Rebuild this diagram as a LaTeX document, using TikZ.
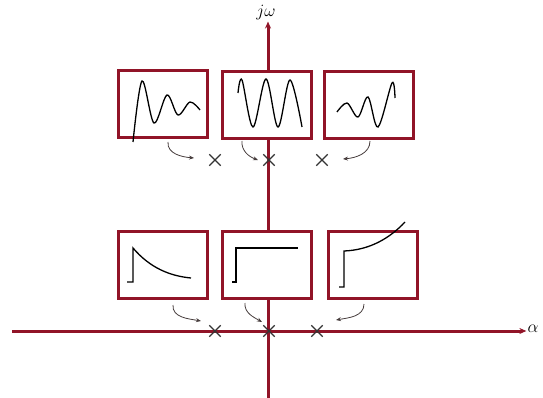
\documentclass[tikz,border=0pt]{standalone}
\usetikzlibrary{shapes.misc,calc,arrows.meta}
\definecolor{axred}{RGB}{145,20,40}
\definecolor{arrgray}{RGB}{70,60,60}
\begin{document}
\begin{tikzpicture}[x=1pt, y=-1pt,
  axis/.style={draw=axred, line width=3pt, -{Stealth[length=7pt,width=6pt]}},
  scope/.style={draw=axred, line width=3pt, fill=white, minimum width=89pt, minimum height=67pt, inner sep=0pt},
  pole/.style={cross out, draw=black!80, line width=1.3pt, minimum size=10pt, inner sep=0pt},
  flow/.style={draw=arrgray, line width=0.8pt, -{Stealth[length=5pt,width=4pt]}},
  wave/.style={draw=black, line width=1.3pt},
  axlabel/.style={font=\fontsize{18}{20}\selectfont, inner sep=1pt}]
\useasboundingbox (0,0) rectangle (543,398);
% axes
\node[axlabel] (jw) at (266,13) {$j\omega$};
\node[axlabel] (alpha) at (533,329) {$\alpha$};
\coordinate (ybot) at (268,398);
\coordinate (xleft) at (12,331);
\draw[axis] (ybot) -- (ybot |- jw.south);
\draw[axis] (xleft) -- (xleft -| alpha.west);
% response boxes, upper row
\node[scope] (t1) at (163,104) {};
\node[scope] (t2) at (267,105) {};
\node[scope] (t3) at (369,105) {};
% response boxes, lower row
\node[scope] (b1) at (163,265) {};
\node[scope] (b2) at (267,265) {};
\node[scope] (b3) at (373,265) {};
% poles
\node[pole] (tx1) at (215,160) {};
\node[pole] (tx2) at (269,160) {};
\node[pole] (tx3) at (322,160) {};
\node[pole] (bx1) at (215,331) {};
\node[pole] (bx2) at (269,331) {};
\node[pole] (bx3) at (317,331) {};
% waveforms
\draw[wave] plot[smooth, tension=0.55] coordinates {(133,142) (142,81) (154,123) (167,95) (178,115) (190,102) (200,110)};
\draw[wave] plot[smooth, tension=0.55] coordinates {(238,93) (242,80) (253,127) (266,79) (278,127) (290,80) (302,127)};
\draw[wave] plot[smooth, tension=0.55] coordinates {(337,112) (347,103) (358,117) (368,97) (378,127) (392,83) (395,98)};
\draw[wave] (127,282) -- (133,282) -- (133,248) .. controls (150,268) and (170,276) .. (191,278);
\draw[wave] (232,282) -- (236,282) -- (236,248) -- (298,248);
\draw[wave] (339,287) -- (344,287) -- (344,251) .. controls (370,250) and (390,238) .. (405,222);
% box to pole arrows
\draw[flow] ($(t1.south)+(5,3)$) to[out=-95, in=175] ($(tx1)+(-21,-2)$);
\draw[flow] ($(t2.south)+(-25,1)$) to[out=-95, in=160] ($(tx2)+(-11,0)$);
\draw[flow] ($(t3.south)+(1,1)$) to[out=-90, in=5] ($(tx3)+(21,-1)$);
\draw[flow] ($(b1.south)+(10,5)$) to[out=-95, in=170] ($(bx1)+(-14,-10)$);
\draw[flow] ($(b2.south)+(-22,3)$) to[out=-95, in=150] ($(bx2)+(-7,-9)$);
\draw[flow] ($(b3.south)+(-9,4)$) to[out=-90, in=10] ($(bx3)+(19,-11)$);
\end{tikzpicture}
\end{document}
